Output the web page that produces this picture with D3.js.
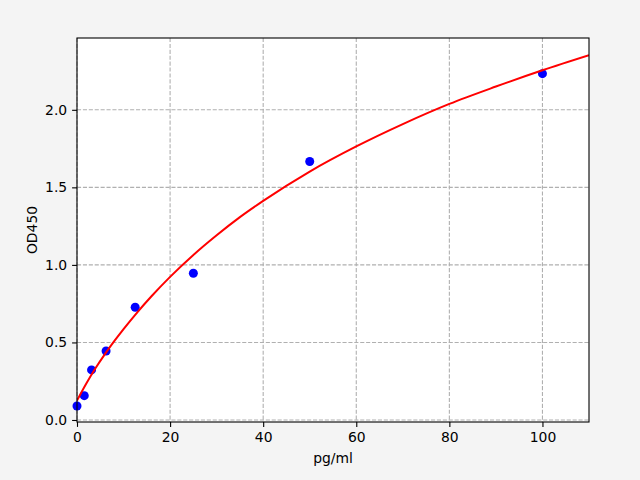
<!DOCTYPE html>
<html>
<head>
<meta charset="utf-8">
<script src="https://cdn.jsdelivr.net/npm/d3@7"></script>
<style>
  body { margin: 0; background: #f4f4f4; }
  svg { display: block; }
  .tick text { font-family: "DejaVu Sans", sans-serif; font-size: 13.9px; fill: #000; }
</style>
</head>
<body>
<script>
// standard points (pg/ml, OD450)
const concentration = [0, 1.5625, 3.125, 6.25, 12.5, 25, 50, 100];
const od = [0.09, 0.157, 0.323, 0.445, 0.727, 0.946, 1.667, 2.233];

// fitted curve
const fitX = [0, 2, 4, 6, 8, 10, 13, 16, 20, 25, 30, 35, 40, 50, 60, 70, 80, 90, 100, 110];
const fitY = [0.125, 0.235, 0.335, 0.425, 0.508, 0.586, 0.696, 0.798, 0.923, 1.064, 1.191, 1.308, 1.413, 1.602, 1.764, 1.908, 2.038, 2.15, 2.255, 2.352];

const xTicks = [0, 20, 40, 60, 80, 100];
const yTicks = [0, 0.5, 1.0, 1.5, 2.0];

const width = 640, height = 480;
const margin = {top: 38, right: 51, bottom: 58, left: 77};
const innerW = width - margin.left - margin.right;
const innerH = height - margin.top - margin.bottom;

const x = d3.scaleLinear().domain([0, 110]).range([0, innerW]);
const y = d3.scaleLinear().domain([-0.013, 2.463]).range([innerH, 0]);

const svg = d3.select("body").append("svg")
  .attr("width", width)
  .attr("height", height);

const g = svg.append("g")
  .attr("transform", `translate(${margin.left},${margin.top})`);

g.append("rect")
  .attr("width", innerW)
  .attr("height", innerH)
  .attr("fill", "#fff");

// grid
g.append("g")
  .selectAll("line")
  .data(xTicks)
  .join("line")
  .attr("x1", d => x(d)).attr("x2", d => x(d))
  .attr("y1", 0).attr("y2", innerH)
  .attr("stroke", "#b0b0b0")
  .attr("stroke-width", 1.1)
  .attr("stroke-dasharray", "4.1,1.8");

g.append("g")
  .selectAll("line")
  .data(yTicks)
  .join("line")
  .attr("x1", 0).attr("x2", innerW)
  .attr("y1", d => y(d)).attr("y2", d => y(d))
  .attr("stroke", "#b0b0b0")
  .attr("stroke-width", 1.1)
  .attr("stroke-dasharray", "4.1,1.8");

// points first, the fit line goes over them
g.append("g")
  .selectAll("circle")
  .data(od)
  .join("circle")
  .attr("cx", (d, i) => x(concentration[i]))
  .attr("cy", d => y(d))
  .attr("r", 4.5)
  .attr("fill", "#0000ff");

// clip so the curve stays inside the axes
svg.append("defs").append("clipPath").attr("id", "clip")
  .append("rect").attr("width", innerW).attr("height", innerH);

const line = d3.line()
  .x((d, i) => x(fitX[i]))
  .y(d => y(d))
  .curve(d3.curveMonotoneX);

g.append("path")
  .datum(fitY)
  .attr("clip-path", "url(#clip)")
  .attr("fill", "none")
  .attr("stroke", "#ff0000")
  .attr("stroke-width", 2)
  .attr("d", line);

// axes
const xAxis = g.append("g")
  .attr("transform", `translate(0,${innerH})`)
  .call(d3.axisBottom(x).tickValues(xTicks).tickFormat(d3.format("d")).tickSizeOuter(0).tickSize(4.9).tickPadding(4.9));

const yAxis = g.append("g")
  .call(d3.axisLeft(y).tickValues(yTicks).tickFormat(d3.format(".1f")).tickSizeOuter(0).tickSize(4.9).tickPadding(4.9));

[xAxis, yAxis].forEach(a => {
  a.select(".domain").remove();
  a.selectAll(".tick line").attr("stroke", "#000").attr("stroke-width", 1.1);
});

// frame
g.append("rect")
  .attr("width", innerW)
  .attr("height", innerH)
  .attr("fill", "none")
  .attr("stroke", "#000")
  .attr("stroke-width", 1.1);

svg.append("text")
  .attr("x", margin.left + innerW / 2)
  .attr("y", 463)
  .attr("text-anchor", "middle")
  .style("font-family", "DejaVu Sans, sans-serif")
  .style("font-size", "13.9px")
  .text("pg/ml");

svg.append("text")
  .attr("transform", `translate(37,${margin.top + innerH / 2}) rotate(-90)`)
  .attr("text-anchor", "middle")
  .style("font-family", "DejaVu Sans, sans-serif")
  .style("font-size", "13.9px")
  .text("OD450");
</script>
</body>
</html>
